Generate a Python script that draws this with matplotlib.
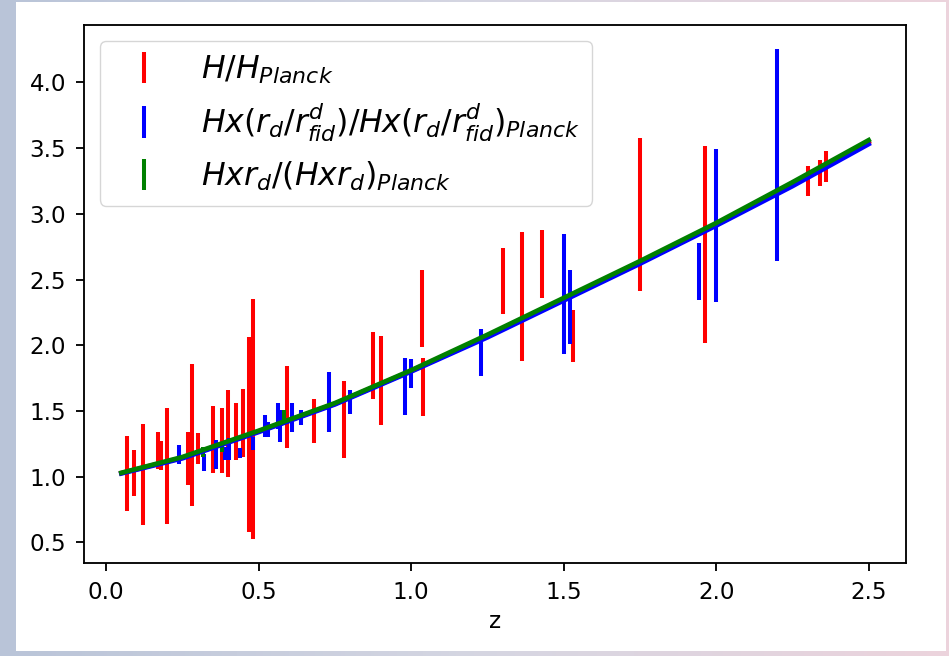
import numpy as np
import matplotlib
matplotlib.use("Agg")
import matplotlib.pyplot as plt
from matplotlib.patches import Rectangle
from matplotlib.colors import LinearSegmentedColormap

# ---- data ----
z_red = [0.07, 0.09, 0.12, 0.17, 0.179, 0.199, 0.27, 0.28, 0.30, 0.352, 0.38, 0.40,
         0.427, 0.45, 0.47, 0.48, 0.593, 0.68, 0.73, 0.781, 0.875, 0.90, 1.037, 1.04,
         1.30, 1.363, 1.43, 1.53, 1.75, 1.965, 2.30, 2.34, 2.36]
h_red = [1.025, 1.025, 1.015, 1.20, 1.16, 1.08, 1.14, 1.32, 1.215, 1.285, 1.275, 1.33,
         1.345, 1.41, 1.32, 1.44, 1.53, 1.425, 1.45, 1.435, 1.845, 1.73, 2.28, 1.68,
         2.49, 2.37, 2.62, 2.07, 2.995, 2.765, 3.25, 3.31, 3.36]
e_red = [0.285, 0.175, 0.385, 0.14, 0.11, 0.44, 0.20, 0.54, 0.115, 0.255, 0.245, 0.33,
         0.215, 0.26, 0.74, 0.91, 0.315, 0.17, 0.11, 0.295, 0.255, 0.34, 0.29, 0.22,
         0.25, 0.493, 0.26, 0.20, 0.585, 0.747, 0.115, 0.10, 0.118]

z_blue = [0.24, 0.32, 0.36, 0.39, 0.404, 0.44, 0.483, 0.52, 0.53, 0.565, 0.571, 0.61,
          0.64, 0.73, 0.80, 0.98, 1.00, 1.23, 1.50, 1.52, 1.945, 2.00, 2.20]
h_blue = [1.17, 1.11, 1.17, 1.175, 1.21, 1.18, 1.25, 1.387, 1.36, 1.46, 1.387, 1.45,
          1.45, 1.57, 1.567, 1.685, 1.785, 1.945, 2.39, 2.29, 2.56, 2.91, 3.445]
e_blue = [0.073, 0.064, 0.11, 0.05, 0.082, 0.04, 0.05, 0.083, 0.06, 0.10, 0.12, 0.11,
          0.06, 0.23, 0.09, 0.215, 0.11, 0.18, 0.455, 0.28, 0.217, 0.58, 0.805]

z_green = [0.317, 0.38, 0.584]
h_green = [1.19, 1.22, 1.465]
e_green = [0.04, 0.03, 0.045]

z_model = [0.05, 0.25, 0.5, 0.75, 1.0, 1.25, 1.5, 1.75, 2.0, 2.25, 2.5]
m_red = [1.028, 1.145, 1.345, 1.555, 1.805, 2.07, 2.35, 2.63, 2.92, 3.225, 3.545]
m_blue = [1.025, 1.14, 1.34, 1.55, 1.80, 2.06, 2.34, 2.62, 2.91, 3.21, 3.53]
m_green = [1.03, 1.15, 1.35, 1.56, 1.81, 2.08, 2.36, 2.64, 2.93, 3.24, 3.56]

labels = [r'$H/H_{Planck}$',
          r'$Hx(r_d/r^d_{fid})/Hx(r_d/r^d_{fid})_{Planck}$',
          r'$Hxr_d/(Hxr_d)_{Planck}$']

S = 1.657  # scale factor vs. default matplotlib sizes

fig = plt.figure(figsize=(9.49, 6.56), dpi=100)

# background frame (slide-like border)
bg = fig.add_axes([0, 0, 1, 1], zorder=-10)
grad = np.linspace(0, 1, 256).reshape(1, -1)
cmap = LinearSegmentedColormap.from_list('bgc', ['#b9c4d8', '#d5d6e2', '#ecd3dc'])
bg.imshow(grad, aspect='auto', cmap=cmap, extent=[0, 1, 0, 1])
bg.set_xlim(0, 1); bg.set_ylim(0, 1)
bg.axis('off')
bg.add_patch(Rectangle((16 / 949, 1 - 651 / 656), (946 - 16) / 949, (651 - 2) / 656,
                       facecolor='white', edgecolor='none'))

ax = fig.add_axes([84 / 949, 1 - 563 / 656, (906 - 84) / 949, (563 - 25) / 656])

eb_kw = dict(fmt='none', elinewidth=2.9, capsize=0)
ax.errorbar(z_red, h_red, yerr=e_red, ecolor='red', label=labels[0], **eb_kw)
ax.errorbar(z_blue, h_blue, yerr=e_blue, ecolor='blue', label=labels[1], **eb_kw)
ax.errorbar(z_green, h_green, yerr=e_green, ecolor='green', label=labels[2], **eb_kw)

ax.plot(z_model, m_red, color='red', lw=3.4, zorder=3)
ax.plot(z_model, m_blue, color='blue', lw=3.4, zorder=4)
ax.plot(z_model, m_green, color='green', lw=3.4, zorder=5)

ax.set_xticks([0.0, 0.5, 1.0, 1.5, 2.0, 2.5])
ax.set_yticks([0.5, 1.0, 1.5, 2.0, 2.5, 3.0, 3.5, 4.0])
ax.tick_params(labelsize=10 * S, length=6, width=0.8 * S, pad=7)
for sp in ax.spines.values():
    sp.set_linewidth(0.8 * S)
ax.set_xlabel('z', fontsize=10 * S, labelpad=4)

leg = ax.legend(loc='upper left', fontsize=22.7)

fig.savefig('out.png', dpi=100)
